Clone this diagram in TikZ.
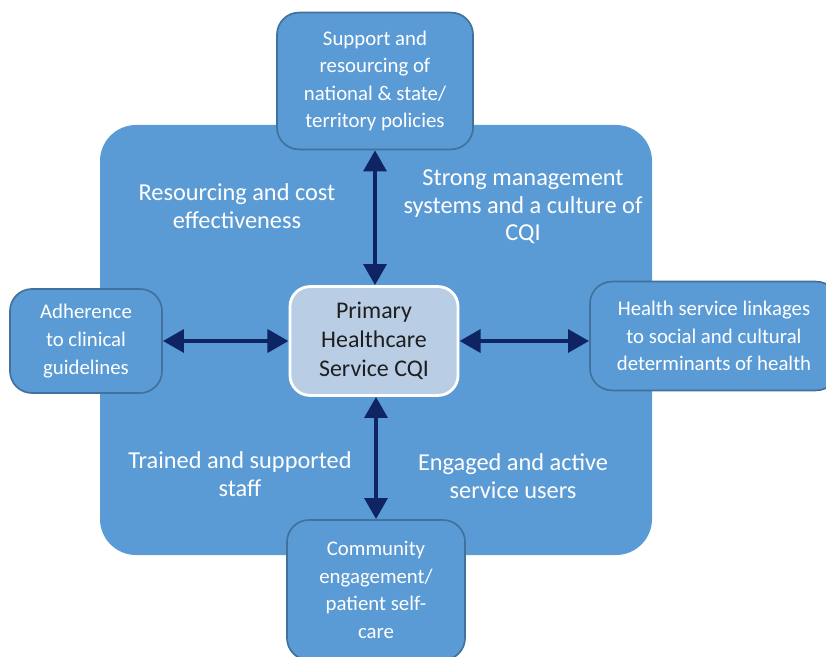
\documentclass[tikz,border=0pt]{standalone}
\usepackage{fontspec}
\setmainfont{Carlito}
\usetikzlibrary{arrows.meta}
\begin{document}
\begin{tikzpicture}[x=0.025cm,y=-0.025cm,
    outerbox/.style={draw=myborder, line width=1.2pt, fill=myblue, rounded corners=0.55cm,
        text=white, align=center, inner sep=0pt, font=\fontsize{14.8}{19.6}\selectfont},
    centrebox/.style={draw=white, line width=2pt, fill=mylight, rounded corners=0.5cm,
        text=mytext, align=center, inner sep=0pt, font=\fontsize{17}{20.4}\selectfont},
    areatext/.style={text=white, align=center, font=\fontsize{17.3}{19.6}\selectfont},
    link/.style={draw=mynavy, line width=3.4pt,
        {Triangle[length=15pt,width=16pt]}-{Triangle[length=15pt,width=16pt]}}]

\definecolor{myblue}{RGB}{91,155,213}
\definecolor{myborder}{RGB}{65,113,156}
\definecolor{mylight}{RGB}{185,205,229}
\definecolor{mynavy}{RGB}{15,36,98}
\definecolor{mytext}{RGB}{30,30,30}

    \useasboundingbox (0,0) rectangle (826,656);

    %Hintergrund
    \fill [myblue, rounded corners=0.9cm] (100,125) rectangle (652,555);

    %Kasten
    \node [centrebox, minimum width=4.2cm, minimum height=2.72cm] (core) at (374,341)
        {Primary\\Healthcare\\Service CQI};
    \node [outerbox, minimum width=4.9cm, minimum height=3.42cm] (policy) at (375,81)
        {Support and\\resourcing of\\national \& state/\\territory policies};
    \node [outerbox, minimum width=3.8cm, minimum height=2.6cm] (guide) at (86,341)
        {Adherence\\to clinical\\guidelines};
    \node [outerbox, minimum width=6.2cm, minimum height=2.72cm] (social) at (714,336)
        {Health service linkages\\to social and cultural\\determinants of health};
    \node [outerbox, minimum width=4.45cm, minimum height=3.5cm] (community) at (376,590)
        {Community\\engagement/\\patient self-\\care};

    %Pfeile
    \draw [link] (policy.south) -- (policy.south |- core.north);
    \draw [link] (guide.east) -- (core.west);
    \draw [link] (core.east) -- (core.east -| social.west);
    \draw [link] (community.north |- core.south) -- (community.north);

    %Labels
    \node [areatext] (cost) at (237,206) {Resourcing and cost\\effectiveness};
    \node [areatext] (mgmt) at (523,207) {Strong management\\systems and a culture of\\CQI};
    \node [areatext] (staff) at (240,474) {Trained and supported\\staff};
    \node [areatext] (users) at (513,476) {Engaged and active\\service users};

\end{tikzpicture}
\end{document}
